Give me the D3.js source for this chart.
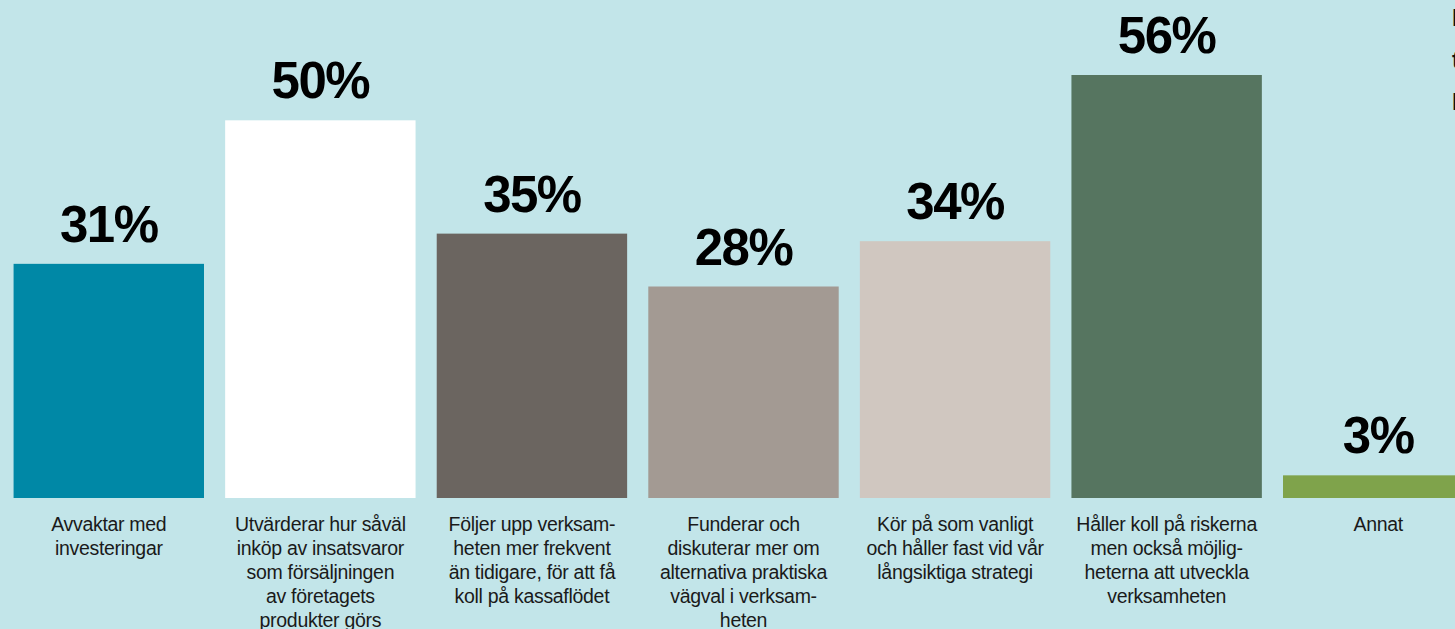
<!DOCTYPE html>
<html><head><meta charset="utf-8">
<script src="https://cdn.jsdelivr.net/npm/d3@7"></script>
<style>
html,body{margin:0;padding:0;background:#C2E5E9;overflow:hidden}
</style></head>
<body>
<svg id="chart" width="1455" height="629"></svg>
<script>
const categories = [
  ["Avvaktar med","investeringar"],
  ["Utvärderar hur såväl","inköp av insatsvaror","som försäljningen","av företagets","produkter görs"],
  ["Följer upp verksam-","heten mer frekvent","än tidigare, för att få","koll på kassaflödet"],
  ["Funderar och","diskuterar mer om","alternativa praktiska","vägval i verksam-","heten"],
  ["Kör på som vanligt","och håller fast vid vår","långsiktiga strategi"],
  ["Håller koll på riskerna","men också möjlig-","heterna att utveckla","verksamheten"],
  ["Annat"]
];
const values = [31, 50, 35, 28, 34, 56, 3];
const colors = ["#0088A6","#FFFFFF","#6B6560","#A39A93","#D0C7C0","#567560","#7FA34B"];

const svg = d3.select("#chart");
svg.append("rect").attr("width",1455).attr("height",629).attr("fill","#C2E5E9");

const x = d3.scaleBand().domain(d3.range(values.length)).range([3, 1484]).paddingInner(0.1).paddingOuter(0.05);
const y = d3.scaleLinear().domain([0, 56]).range([498, 75]);

svg.selectAll("rect.bar").data(values).join("rect")
  .attr("class","bar")
  .attr("x",(d,i)=>x(i)).attr("width",x.bandwidth())
  .attr("y",d=>y(d)).attr("height",d=>y(0)-y(d))
  .attr("fill",(d,i)=>colors[i]);

svg.selectAll("text.val").data(values).join("text")
  .attr("class","val")
  .attr("x",(d,i)=>x(i)+x.bandwidth()/2)
  .attr("y",d=>y(d)-22)
  .attr("text-anchor","middle")
  .attr("font-family","Liberation Sans, Arial, sans-serif")
  .attr("font-weight","bold")
  .attr("font-size",51)
  .attr("letter-spacing","-1.5")
  .attr("fill","#000")
  .text(d=>d+"%");

const lab = svg.selectAll("text.cat").data(categories).join("text")
  .attr("class","cat")
  .attr("text-anchor","middle")
  .attr("font-family","Liberation Sans, Arial, sans-serif")
  .attr("font-size",19.5)
  .attr("letter-spacing","-0.3")
  .attr("fill","#1a1a1a");
lab.each(function(lines,i){
  d3.select(this).selectAll("tspan").data(lines).join("tspan")
    .attr("x",x(i)+x.bandwidth()/2)
    .attr("y",(l,j)=>531+j*24)
    .text(l=>l);
});

// cut-off text at right edge (as in the reference)
const edge = ["B","t","B"];
svg.selectAll("text.edge").data(edge).join("text")
  .attr("class","edge")
  .attr("x",1452).attr("y",(d,i)=>26+i*42)
  .attr("font-family","Liberation Sans, Arial, sans-serif")
  .attr("font-weight","bold").attr("font-size",24).attr("fill","#111")
  .text(d=>d);
</script>
</body></html>
